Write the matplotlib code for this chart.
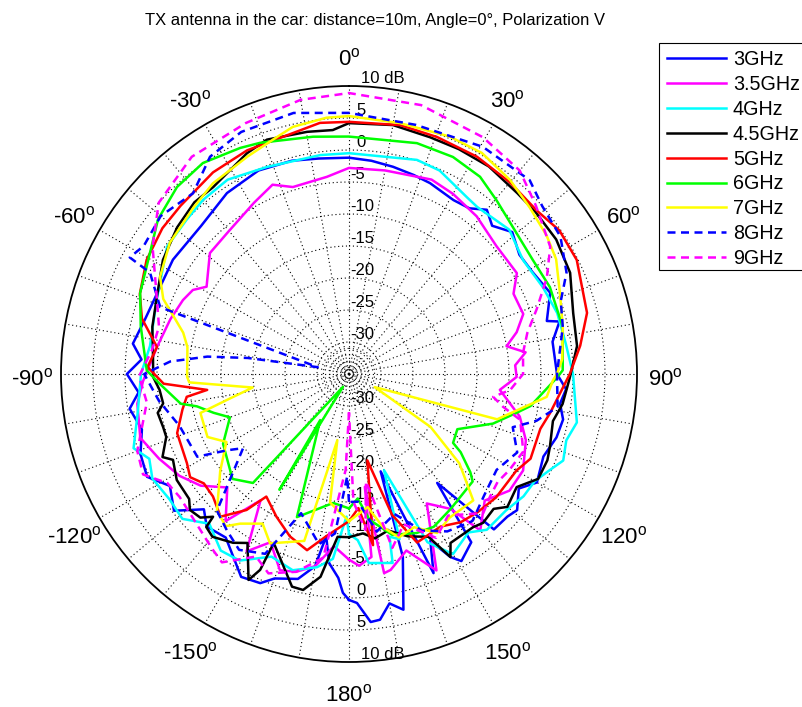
import numpy as np
import matplotlib
matplotlib.use("Agg")
import matplotlib.pyplot as plt
from matplotlib.patches import Rectangle

plt.rcParams['font.family'] = ['Liberation Sans', 'DejaVu Sans']
plt.rcParams['mathtext.fontset'] = 'custom'
plt.rcParams['mathtext.rm'] = 'Liberation Sans'

TITLE = "TX antenna in the car: distance=10m, Angle=0\u00b0, Polarization V"

# measured gain (dB) vs azimuth (deg, clockwise from front)
ang_3g = [-180, -178.4, -177, -174, -172, -170, -166, -160, -157, -152, -149, -143, -137, -133, -128,
          -122, -117, -111, -105, -99, -95, -90, -86, -82, -75, -65, -57, -45, -34, -24, -15, -8,
          0, 6, 12, 18, 23, 31, 36, 40, 44, 49, 55, 61, 68, 75, 76, 81, 90, 94, 98, 102, 107, 113,
          120, 124, 129, 132, 137, 141, 144, 149, 151, 154, 157, 162, 163.6, 167, 170, 172.8, 175, 178, 180]
db_3g = [0.3, -0.8, -3.1, -5.3, -9.4, -4.5, -2, -1, 0.5, 0.9, -0.6, -3, -2.4, -4, -0.3,
         -2, 0.4, -0.1, -1.5, -0.3, -2, -0.3, -2.5, -0.9, -2, -2.5, -2.2, -2.3, -0.9, -0.2, -0.5, -1,
         -1.2, -1.5, -1.9, -2.3, -2.6, -3.3, -3, -1.5, -2.8, -1.2, -2.5, -2.2, -1.1, -3, -1.1, -2.8, -2.5, -1, -1.7, -0.8, -1.1, -2,
         -1.1, -3, -1.2, -1.7, -1.8, -13.1, -2.5, -0.9, -2.3, -6, -1.2, -19, -5.2, 2.8, 1.4, 3.7, 3.9, 0.8, 0.3]

ang_35g = [-180, -175, -170, -165, -160.6, -155, -150, -145, -140, -133, -127, -121, -114, -107, -98,
           -92, -82, -73, -66, -61.7, -58.5, -49, -41, -29, -22, -16.7, -6.4, 0, 10, 23, 30, 39, 49,
           59, 64, 71, 76, 80, 83, 87, 91, 96, 104, 110.5, 119, 126, 133, 140, 143, 149, 156, 162,
           168, 170, 172, 173, 177, 180]
db_35g = [-6, -8, -4.5, -3, -2.5, -6, -3, -10.9, -5, -9, -6, -4.1, -2.5, -0.9, -1.6,
          -2.8, -4.7, -5.8, -6.6, -7.3, -8.9, -6.2, -5.9, -4.4, -3.1, -4.5, -4, -2.8, -2.7, -2, -2.5, -3.3, -4.5,
          -4.4, -6.4, -6.2, -8, -10, -7.2, -9, -8.8, -11.3, -7.5, -5.5, -3.9, -4, -6, -3.1, -8.6, -11.4, -1.4, -6,
          -3.7, -3.4, -17.2, -6.2, -5, -6]

ang_4g = [-180, -179, -175, -170.6, -164, -157, -149.6, -144, -137, -131, -125, -118, -113, -109, -100,
          -90, -82, -69, -55, -46.5, -40, -32, -21.6, -7.5, 0, 17.6, 24, 33.7, 37.5, 48, 56.8, 66,
          73.7, 82, 90, 102, 107, 112, 115.5, 120, 125, 131, 138.5, 143, 150, 155, 160, 163, 166,
          167, 174, 177, 180]
db_4g = [-10, -12.7, -6, -4.4, -3.1, -4, -1.2, -0.9, -3, -0.5, -0.8, -0.2, -1.1, 0.6, -1.5,
         -2.5, -3.6, -2.8, -0.3, 0, 0.5, 0.8, -0.2, -0.5, -0.5, 0.1, -0.2, -1.8, -2.1, -1.3, -2.5, -1.8,
         -1.1, -0.8, 0, 1.4, 0.5, 1.1, -0.2, -1.5, -1.7, -2.5, -2.5, -4, -2.5, -6, -19, -8, -8.8,
         -4.7, -5.3, -9, -10]

ang_45g = [-180, -176, -172, -168, -165, -156, -155.6, -154, -149, -145.5, -140, -137, -136.4, -134, -130.5,
           -128, -121.6, -116, -114, -109, -106, -101.5, -99, -94.8, -90.9, -84, -76.5, -67, -58.5, -49.5,
           -42, -36, -24.8, -19.3, -9.8, -3.8, 0, 10, 18.9, 26, 34, 43, 49, 57, 65.4, 74.8, 83, 91, 98,
           103, 110, 113.5, 119, 124, 130, 133, 138, 141, 149, 151, 154, 160, 166, 171, 175, 180]
db_45g = [-9.5, -9.5, -3, -0.5, -0.6, -6.1, -1.4, 0.8, -4.2, -3, -1.8, -2.3, -4.2, -2.7, -2.3,
          -3.3, -3.4, -4.4, -3.1, -4.8, -4.8, -4.5, -5.6, -5.3, -4.4, -4.2, -3.4, -2.5, -0.9, 0.3,
          1.1, 1.1, 3, 3.8, 3.4, 3.2, 4.2, 4.5, 4.1, 4.1, 4.1, 3.6, 3.6, 3.6, 3, 1.3, 0.9, -0.5, -1.3,
          -2.3, -1.6, -1.2, -1.2, -3.4, -2.7, -4.1, -3.7, -4.2, -4.2, -2.3, -6.7, -8, -9.8, -9, -10, -9.5]

ang_5g = [-180, -172, -166.6, -160, -153, -146, -143, -138, -132, -127, -123, -118.8, -109, -102, -98,
          -96.4, -93, -88, -82, -75, -69, -60.6, -52, -45, -34, -24.5, -6.6, 0, 11.6, 20.4, 30.5,
          40, 49, 55.7, 63.4, 75.6, 83, 90, 101, 106, 115, 120, 130, 137, 143, 149, 158, 163, 168,
          172, 176, 180]
db_5g = [-12, -9.4, -6.7, -8, -10, -11.9, -8.4, -5, -6.4, -6.6, -5.4, -6.1, -6.6, -8.4, -9.4,
         -12.7, -6, -3.5, -4.7, -1.5, 0, 1.3, 2, 2.2, 3, 3.4, 4.5, 4.4, 4.7, 4.5, 4.4,
         4.1, 3.9, 4.8, 4.8, 3.4, 1.4, -0.5, -3, -3.9, -3.7, -4.8, -5, -5.5, -6, -7.2, -6.6, -12, -21.2,
         -8, -14, -12]

ang_6g = [-180, -173, -160, -148, -149, -155, -138.6, -132, -119, -110, -106, -102, -100, -93, -89,
          -77, -68.8, -58.7, -51, -42.6, -34.7, -25.7, -21, -8.6, 0, 16.4, 25.6, 33.6, 40.4, 48, 58,
          66.6, 77.6, 89, 91, 100, 103, 109, 117, 123.5, 125, 129, 131, 143, 151, 157, 165, 172, 176, 180]
db_6g = [-14, -14.7, -11.2, -26.5, -13.9, -32.8, -12.3, -10.5, -12.5, -15.2, -13, -10.7, -8.3, -5.4, -3.4,
         -1.6, 0, 1.4, 3.4, 4.7, 5.1, 4.2, 3.7, 2.5, 2.1, 2.6, 2.6, 2, 0.6, -0.6, -1.2,
         -0.8, -0.8, -1.6, -2.5, -6.2, -8.1, -11.2, -16, -15.5, -13.7, -10.6, -9.4, -8.6, -7.7, -8, -9, -12, -15.5, -14]

ang_7g = [-180, -171.6, -170, -165, -155, -150, -144, -141, -136, -127, -119, -114, -104.7, -102, -98,
          -93, -91, -80.5, -76, -68, -62.8, -53.8, -43, -35.5, -25, -18, -12.8, -5, 0, 11.5, 23,
          31, 39.7, 47.3, 55, 61, 69, 77.6, 86, 90, 91.7, 96.6, 107, 117, 123, 129, 135.5, 145,
          151, 157, 163, 167.5, 172, 180]
db_7g = [-12, -14.7, -24.5, -8, -5.8, -8, -6.1, -4.4, -5.3, -9.8, -13.1, -10.8, -11, -15.5, -19.8,
         -10, -9.7, -9.4, -8.3, -3.7, -1.8, -0.3, 0.6, 1.6, 2.5, 3.5, 4.6, 5.2, 5.3, 5, 5.3,
         5.3, 4.4, 3.4, 2.7, 2, 0.3, -0.8, -1.6, -2.5, -3.1, -3.9, -10.8, -30.5, -19.8, -12.8, -7.3, -7.6,
         -6.6, -9, -8.3, -10.5, -14, -12]

ang_8g = [-180, -179, -175, -170, -161, -155, -148, -142, -136, -125, -122, -118.6, -107, -98, -90,
          -86, -83, -81, -77.7, -70.5, -63, -62, -58, -50, -40.8, -32.6, -24, -12, 0, 15, 30.5,
          43, 49, 57, 65, 71, 77.6, 90, 99, 104, 108, 115, 123, 132, 140, 148, 155, 162, 170, 176, 180]
db_8g = [-15, -19, -10, -8, -12, -4, -2.6, -4, -5.3, -14.8, -12.5, -8, -7.3, -5, -3,
         -7, -12.7, -19, -30, -3.7, -0.1, 3.8, 2.8, 3.4, 2.3, 5.3, 6.4, 6.7, 5.8, 5.3, 6.2,
         6.4, 5, 4.4, 2.5, 0, -0.8, -2.5, -2, -4.8, -8.1, -6, -7.5, -6.6, -5, -6, -8, -12, -10, -15, -15]

ang_9g = [-180, -178, -172, -165, -158, -153, -146, -142, -126, -121, -116, -110, -98, -90.6, -83,
          -76, -67, -57, -48, -35.9, -22.3, -10, 0, 15, 29.5, 40, 48, 57.7, 64, 71, 77, 83, 90,
          95.7, 99, 102, 105, 114, 121, 126, 131, 136, 145, 152, 160, 166, 171, 174, 178, 180]
db_9g = [-29, -20, -6, -3, -1.4, -3, 0.5, -0.3, -2.3, -1.9, 0.8, 0.2, -3.1, -2.2, -4,
         -4.4, -2.3, 1.6, 5, 6.9, 7.4, 8.5, 8.9, 8.5, 7.5, 6.5, 4.3, 2.2, -0.6, -4, -6.4, -7.6, -7.8,
         -9.7, -12.2, -10.4, -7.3, -5.2, -5.8, -6.3, -5.8, -4.8, -8, -6, -10, -7, -18, -10.5, -15, -29]

series = [
    ("3GHz", ang_3g, db_3g, "#0000ff", "-"),
    ("3.5GHz", ang_35g, db_35g, "#ff00ff", "-"),
    ("4GHz", ang_4g, db_4g, "#00ffff", "-"),
    ("4.5GHz", ang_45g, db_45g, "#000000", "-"),
    ("5GHz", ang_5g, db_5g, "#ff0000", "-"),
    ("6GHz", ang_6g, db_6g, "#00ff00", "-"),
    ("7GHz", ang_7g, db_7g, "#ffff00", "-"),
    ("8GHz", ang_8g, db_8g, "#0000ff", "--"),
    ("9GHz", ang_9g, db_9g, "#ff00ff", "--"),
]

R_MIN, R_MAX = -35, 10
ring_vals = [-30, -25, -20, -15, -10, -5, 0, 5]
inner_rings = [-34, -33, -32, -31]

fig = plt.figure(figsize=(8.03, 7.07), dpi=100)
ax = fig.add_axes([61 / 803, 45 / 707, 576 / 803, 576 / 707], projection="polar")
ax.set_theta_zero_location("N")
ax.set_theta_direction(-1)
ax.set_ylim(R_MIN, R_MAX)
ax.grid(False)
ax.set_xticks([])
ax.set_yticks([])
ax.spines["polar"].set_linewidth(1.3)
ax.spines["polar"].set_color("black")

# dotted grid: rings every 5 dB, spokes every 10 deg
full = np.linspace(0, 2 * np.pi, 361)
dot = (0, (1, 2.5))
for v in ring_vals + inner_rings:
    ax.plot(full, np.full_like(full, v), color="black", lw=0.8, ls=dot, zorder=1)
for a in range(0, 360, 10):
    t = np.deg2rad(a)
    ax.plot([t, t], [R_MIN, R_MAX], color="black", lw=0.8, ls=dot, zorder=1)

# ring labels along the 0 / 180 deg spokes
for v in ring_vals + [10]:
    lab = "10 dB" if v == 10 else str(v)
    dx = 1 if v < 0 else (7 if v < 10 else 12)
    for a in (0, 180):
        ax.annotate(lab, xy=(np.deg2rad(a), v), xytext=(dx, 0), textcoords="offset pixels",
                    ha="left", va="bottom", fontsize=12, zorder=2, annotation_clip=False)

# angle labels
for a in range(-150, 181, 30):
    dy = -2 if abs(a) < 90 else -5
    ax.annotate(f"{a}$^{{\\mathrm{{o}}}}$", xy=(np.deg2rad(a), 14.5), xytext=(0, dy),
                textcoords="offset pixels", ha="center", va="center", fontsize=16,
                annotation_clip=False)

handles = []
for name, ang, db, col, ls in series:
    if ls == "--":
        ln, = ax.plot(np.deg2rad(ang), db, color=col, lw=1.8, dashes=(3.2, 2.2), zorder=3)
    else:
        ln, = ax.plot(np.deg2rad(ang), db, color=col, lw=1.8, zorder=3)
    ln.set_clip_on(False)
    handles.append(ln)

# legend box runs off the right edge of the figure
fig.patches.append(Rectangle((659 / 803, 1 - 270 / 707), 0.3, 227 / 707, transform=fig.transFigure,
                             facecolor="white", edgecolor="black", lw=0.8, zorder=1))
leg = fig.legend(handles, [s[0] for s in series], loc="upper left",
                 bbox_to_anchor=(659 / 803, 1 - 42 / 707), fontsize=14.2, frameon=False,
                 handlelength=3.0, handletextpad=0.35, borderpad=0.4, labelspacing=0.3,
                 borderaxespad=0)

fig.text(375 / 803, 1 - 20 / 707, TITLE, ha="center", va="center", fontsize=11.9)

fig.savefig("out.png", dpi=100)
